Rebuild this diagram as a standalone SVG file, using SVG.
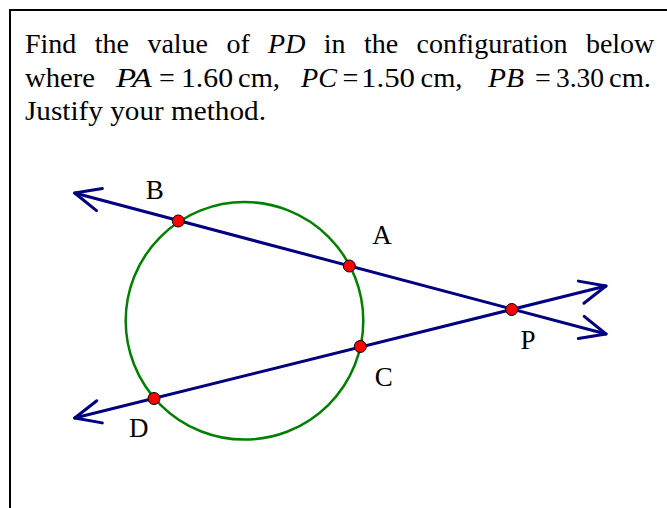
<svg xmlns="http://www.w3.org/2000/svg" width="667" height="508" viewBox="0 0 667 508">
<style>
.t{font-family:"Liberation Serif","Times New Roman",serif;font-size:28px;fill:#000}
.i{font-style:italic}
.lbl{font-family:"Liberation Serif","Times New Roman",serif;font-size:27px;fill:#000;text-anchor:middle}
.ray{fill:none;stroke:#000080;stroke-width:3;stroke-linecap:round;marker-start:url(#arr);marker-end:url(#arr)}
.pt{fill:#ff0000;stroke:#000;stroke-width:1}
</style>
<defs>
<marker id="arr" markerUnits="userSpaceOnUse" markerWidth="34" markerHeight="32" viewBox="-30 -16 34 32" refX="0" refY="0" orient="auto-start-reverse" overflow="visible">
<path d="M-25.6,-11.4 L0,0 L-25.6,11.4" fill="none" stroke="#000080" stroke-width="3" stroke-linecap="round" stroke-linejoin="round"/>
</marker>
</defs>
<rect x="10" y="10" width="680" height="520" fill="#fff" stroke="#000" stroke-width="2"/>
<g id="question">
<text class="t" y="53"><tspan x="25">Find</tspan><tspan x="94.8">the</tspan><tspan x="147.4">value</tspan><tspan x="226.4">of</tspan><tspan x="268.1" class="i">PD</tspan><tspan x="323.8">in</tspan><tspan x="364">the</tspan><tspan x="416.6">configuration</tspan><tspan x="585.9">below</tspan></text>
<text class="t" y="86.5"><tspan x="25" textLength="70" lengthAdjust="spacingAndGlyphs">where</tspan><tspan x="116" class="i" textLength="36" lengthAdjust="spacingAndGlyphs">PA</tspan><tspan x="159">=</tspan><tspan x="181" textLength="52" lengthAdjust="spacingAndGlyphs">1.60</tspan><tspan x="238" textLength="42" lengthAdjust="spacingAndGlyphs">cm,</tspan><tspan x="301" class="i" textLength="36" lengthAdjust="spacingAndGlyphs">PC</tspan><tspan x="342.5">=</tspan><tspan x="361" textLength="54" lengthAdjust="spacingAndGlyphs">1.50</tspan><tspan x="420.5" textLength="42" lengthAdjust="spacingAndGlyphs">cm,</tspan><tspan x="488" class="i" textLength="36" lengthAdjust="spacingAndGlyphs">PB</tspan><tspan x="535">=</tspan><tspan x="556" textLength="48" lengthAdjust="spacingAndGlyphs">3.30</tspan><tspan x="609" textLength="42" lengthAdjust="spacingAndGlyphs">cm.</tspan></text>
<text class="t" x="25" y="120" textLength="241" lengthAdjust="spacingAndGlyphs">Justify your method.</text>
</g>
<g id="circle">
<circle cx="244.5" cy="320.8" r="118.8" fill="none" stroke="#008000" stroke-width="2.5"/>
</g>
<g id="connectors">
<path class="ray" d="M74.7,193 L606,334"/>
<path class="ray" d="M74.7,418 L606,286"/>
</g>
<g id="B"><circle class="pt" cx="178.3" cy="221" r="6"/><text class="lbl" x="154.7" y="199">B</text></g>
<g id="A"><circle class="pt" cx="349.3" cy="266" r="6"/><text class="lbl" x="382" y="244">A</text></g>
<g id="C"><circle class="pt" cx="360.3" cy="346.5" r="6"/><text class="lbl" x="383.7" y="386">C</text></g>
<g id="D"><circle class="pt" cx="154" cy="398.5" r="6"/><text class="lbl" x="138.7" y="437">D</text></g>
<g id="P"><circle class="pt" cx="511.7" cy="309.5" r="6"/><text class="lbl" x="528" y="349">P</text></g>
</svg>
